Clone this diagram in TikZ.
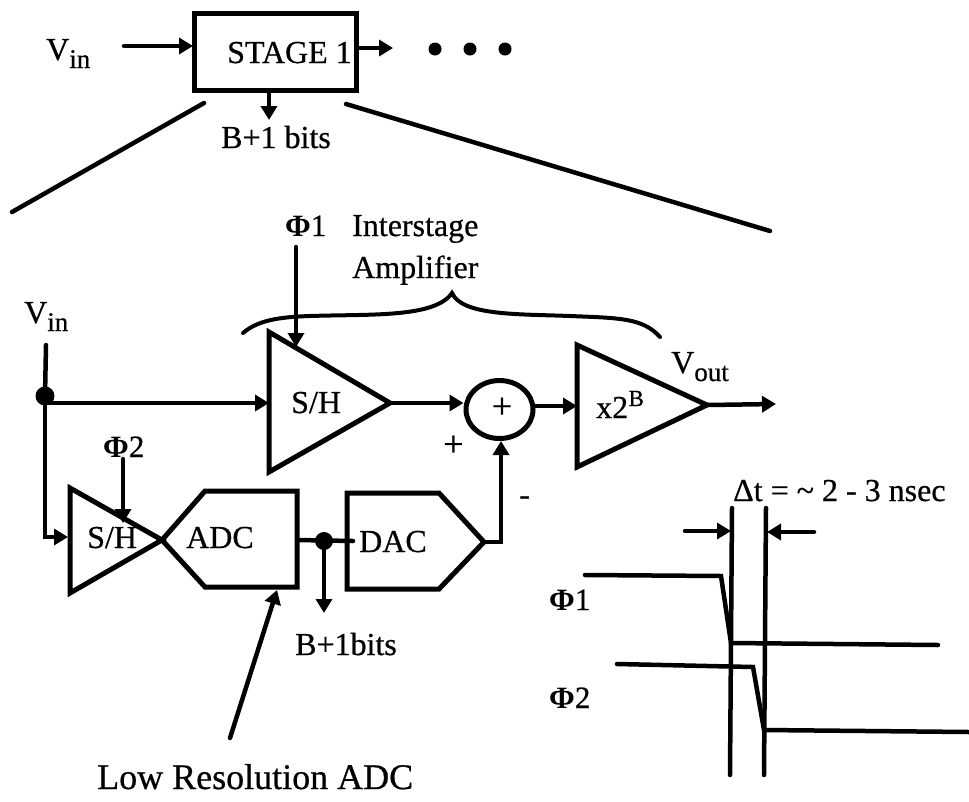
\documentclass[tikz,border=0pt]{standalone}
\usepackage{fontspec}
\setmainfont{Liberation Serif}[FakeBold=0.6]
\newfontfamily\phifont{Liberation Serif Bold}
\usetikzlibrary{arrows.meta,shapes.geometric}
\tikzset{
  wire/.style={line width=4.5pt,line cap=round,line join=miter},
  block/.style={line width=5pt,line join=miter},
  arr/.style={wire,-{Triangle[length=14pt,width=16pt]}},
  lab/.style={anchor=base west,inner sep=0pt,font=\fontsize{32}{36}\selectfont},
  labl/.style={lab,font=\fontsize{36}{40}\selectfont},
  phi/.style={lab,font=\fontsize{31}{36}\selectfont},
  blob/.style={circle,fill=black,inner sep=0pt,minimum size=#1}
}
\newcommand{\subt}[1]{\raisebox{-8pt}{\fontsize{27}{28}\selectfont #1}}
\newcommand{\Phisym}{{\phifont Φ}}
\begin{document}
\begin{tikzpicture}[x=1pt,y=-1pt]
\useasboundingbox (0,0) rectangle (969,801);
% ---- top stage
\draw[block] (194,13) rectangle (356,90);
\coordinate (viT) at (124,46); \coordinate (viTe) at (193,46);
\draw[arr] (viT) -- (viTe);
\coordinate (soA) at (357,48); \coordinate (soB) at (393,48);
\draw[arr] (soA) -- (soB);
\coordinate (sdA) at (269,91); \coordinate (sdB) at (269,120);
\draw[arr] (sdA) -- (sdB);
\node[blob=13pt] (d1) at (435,49) {};
\node[blob=13pt] (d2) at (470,49) {};
\node[blob=13pt] (d3) at (505,49) {};
\node[lab] (tvin) at (46,60) {V\subt{in}};
\node[lab] (tstage) at (227,63) {STAGE 1};
\node[lab] (tbits) at (221,148) {B+1 bits};
\coordinate (zlA) at (204,103); \coordinate (zlB) at (12,212);
\coordinate (zrA) at (346,104); \coordinate (zrB) at (770,231);
\draw[wire] (zlA) -- (zlB);
\draw[wire] (zrA) -- (zrB);
% ---- labels at the amplifier
\node[phi] (phiA) at (285,236) {\Phisym1};
\node[lab] (tinter) at (352,236) {Interstage};
\node[lab] (tampl) at (352,278) {Amplifier};
\coordinate (brL) at (243,333); \coordinate (brT) at (452,293); \coordinate (brR) at (660,337);
\draw[wire,line width=4pt] (brL) .. controls (258,320) and (280,317) .. (310,316)
  .. controls (370,314) and (435,318) .. (brT)
  .. controls (462,316) and (520,314) .. (570,316)
  .. controls (620,318) and (643,318) .. (brR);
% ---- big S/H
\coordinate (shW) at (269,403); \coordinate (shE) at (390,403);
\draw[block] (269,332) -- (shE) -- (269,472) -- cycle;
\node[lab] (tsh) at (291,413) {S/H};
\coordinate (pA) at (296,247); \coordinate (pB) at (296,347);
\draw[arr] (pA) -- (pB);
% ---- input
\node[lab] (tvinb) at (24,323) {V\subt{in}};
\coordinate (inT) at (46,345);
\node[blob=19pt] (jn) at (45,396) {};
\coordinate (inD) at (45,537);
\draw[wire] (inT) -- (jn.center);
\coordinate (jnH) at (46,403);
\draw[arr] (jnH) -- (shW);
\coordinate (shsW) at (68,537);
\draw[arr] (jn.center) -- (inD) -- (shsW);
% ---- summer
\node[draw,ellipse,line width=5pt,minimum width=67pt,minimum height=58pt,inner sep=0pt] (sum) at (499.5,409.5) {};
\node[font=\fontsize{36}{40}\selectfont,inner sep=0pt] (splus) at (502,408) {+};
\draw[arr] (shE) -- (sum.west |- shE);
\node[lab,font=\fontsize{36}{40}\selectfont] (tplus) at (443,456) {+};
\node[lab] (tminus) at (519,505) {-};
% ---- x2B
\coordinate (gW) at (577,406); \coordinate (gE) at (707,405);
\draw[block] (577,345) -- (gE) -- (577,467) -- cycle;
\node[lab] (tx) at (596,418) {x2};
\node[anchor=base west,inner sep=0pt,font=\fontsize{23}{26}\selectfont] (tb) at (tx.base east) [yshift=12pt] {B};
\draw[arr] (sum.east |- gW) -- (gW);
\coordinate (vo) at (776,404);
\draw[arr] (gE) -- (vo);
\node[lab] (tvout) at (671,373) {V\subt{out}};
% ---- small S/H
\coordinate (ssE) at (162,540);
\draw[block] (70,488) -- (ssE) -- (70,593) -- cycle;
\node[lab] (tshb) at (87,548) {S/H};
\node[phi] (phiB) at (103,457) {\Phisym2};
\coordinate (pC) at (123,459); \coordinate (pD) at (123,523);
\draw[arr] (pC) -- (pD);
% ---- ADC
\draw[block] (ssE) -- (205,491) -- (297,491) -- (297,587) -- (205,587) -- cycle;
\node[lab] (tadc) at (186,548) {ADC};
\coordinate (adO) at (298,540); \coordinate (daI) at (353,541);
\draw[wire] (adO) -- (daI);
\node[blob=18pt] (jb) at (324,541) {};
\coordinate (bitsE) at (324,613);
\draw[arr] (jb.center) -- (bitsE);
\node[lab] (tbb) at (295,655) {B+1bits};
% ---- DAC
\coordinate (daE) at (484,542);
\draw[block] (347,493) -- (439,493) -- (daE) -- (439,589) -- (347,589) -- cycle;
\node[lab] (tdac) at (359,552) {DAC};
\coordinate (daM) at (501,542);
\draw[arr] (daE) -- (daM) -- (sum.south -| daM);
% ---- ADC callout
\coordinate (lrA) at (230,738); \coordinate (lrB) at (277,590);
\draw[arr] (lrA) -- (lrB);
\node[labl] (tlow) at (97,789) {Low Resolution ADC};
% ---- timing
\node[lab] (tdt) at (733,501) {Δt = \textasciitilde{} 2 - 3 nsec};
\coordinate (vaT) at (732,508); \coordinate (vaB) at (730,775);
\coordinate (vbT) at (766,508); \coordinate (vbB) at (764,775);
\draw[wire] (vaT) -- (vaB);
\draw[wire] (vbT) -- (vbB);
\coordinate (dlA) at (685,531); \coordinate (dlB) at (731,531);
\coordinate (drA) at (814,532); \coordinate (drB) at (767,532);
\draw[arr] (dlA) -- (dlB);
\draw[arr] (drA) -- (drB);
\coordinate (wa) at (585,575); \coordinate (wb) at (721,576);
\coordinate (wc) at (731,643); \coordinate (wd) at (938,645);
\draw[wire] (wa) -- (wb) -- (wc) -- (wd);
\coordinate (xa) at (617,664); \coordinate (xb) at (753,667);
\coordinate (xc) at (764,730); \coordinate (xd) at (969,732);
\draw[wire] (xa) -- (xb) -- (xc) -- (xd);
\node[phi] (phiC) at (549,610) {\Phisym1};
\node[phi] (phiD) at (549,708) {\Phisym2};
\end{tikzpicture}
\end{document}
